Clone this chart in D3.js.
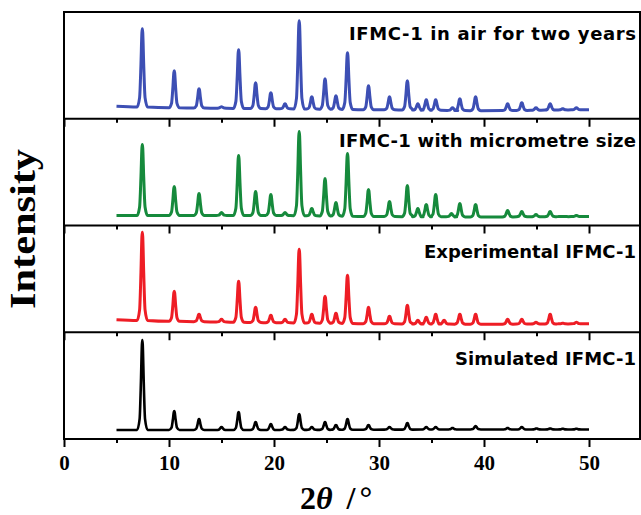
<!DOCTYPE html>
<html>
<head>
<meta charset="utf-8">
<style>
  body { margin: 0; background: #fff; }
  svg { display: block; }
</style>
</head>
<body>
<div id="chart"></div>
<script src="https://d3js.org/d3.v7.min.js"></script>
<script>
// Panel labels, top to bottom
var panelNames = ["IFMC-1 in air for two years", "IFMC-1 with micrometre size", "Experimental IFMC-1", "Simulated IFMC-1"];
var panelColors = ["#3d4fb4", "#168a3c", "#ee1d25", "#000000"];

// Peak positions (2theta, degrees) and apex intensities (a.u.)
var airPeaks = [[7.46, 90], [10.5, 48], [12.86, 30], [15.0, 12], [16.63, 69], [18.25, 36], [19.7, 26], [21.05, 15],
  [22.4, 98], [23.6, 22], [24.86, 40], [25.9, 23], [27.0, 66], [29.0, 33], [31.0, 22], [32.7, 38], [33.7, 15],
  [34.5, 19], [35.4, 19], [37.0, 11], [37.7, 20], [39.2, 22], [42.25, 15], [43.6, 16], [44.95, 11], [46.3, 15],
  [47.5, 10], [48.8, 11]];
var microPeaks = [[7.46, 81], [10.5, 39], [12.86, 32], [15.0, 13], [16.63, 70], [18.25, 34], [19.7, 31], [21.05, 13],
  [22.4, 94], [23.6, 17], [24.86, 47], [25.9, 23], [27.0, 72], [29.0, 36], [31.0, 24], [32.7, 40], [33.7, 17],
  [34.5, 21], [35.4, 31], [36.9, 12], [37.7, 22], [39.2, 21], [42.25, 15], [43.6, 14], [44.95, 11], [46.3, 14],
  [47.5, 9], [48.8, 10]];
var expPeaks = [[7.46, 100], [10.5, 41], [12.86, 18], [15.0, 13], [16.63, 51], [18.25, 25], [19.7, 17], [21.05, 13],
  [22.4, 83], [23.6, 18], [24.86, 36], [25.9, 19], [27.0, 57], [29.0, 25], [31.0, 16], [32.7, 27], [33.7, 12],
  [34.5, 15], [35.4, 18], [36.2, 12], [37.7, 18], [39.2, 18], [42.25, 13], [43.6, 13], [44.95, 10], [46.3, 18],
  [47.5, 9], [48.8, 10]];
var simPeaks = [[7.46, 99], [10.5, 28], [12.86, 20], [15.0, 12], [16.63, 27], [18.25, 17], [19.7, 15], [21.05, 12],
  [22.4, 25], [23.6, 12], [24.86, 17], [25.9, 14], [27.0, 20], [29.0, 14], [31.0, 12], [32.7, 16], [34.5, 12],
  [35.4, 12], [37.0, 11], [39.2, 13], [42.25, 11], [43.6, 12], [45.0, 10.5], [46.3, 10.5], [47.5, 10.3], [48.8, 10.3]];

// Background level of each trace (2theta, a.u.)
var airBase = [[5, 12.5], [10, 11], [20, 10], [30, 9], [40, 8], [50, 9]];
var microBase = [[5, 10], [20, 10], [30, 9], [40, 8.5], [50, 9]];
var expBase = [[5, 12.5], [10, 11], [20, 9.5], [30, 8.5], [40, 8], [50, 8.5]];
var simBase = [[5, 9], [20, 9], [35, 9.5], [50, 9.5]];

var allPeaks = [airPeaks, microPeaks, expPeaks, simPeaks];
var allBase = [airBase, microBase, expBase, simBase];
var xMajor = [0, 10, 20, 30, 40, 50];
var xMinor = [5, 15, 25, 35, 45];

var W = 641, H = 515;
var plotL = 64, plotR = 640, plotT = 12, plotB = 439;
var panelH = (plotB - plotT) / 4;
var labelDy = [28, 28, 32, 33];
var labelLen = [287, 297, 212, 181];

var svg = d3.select("#chart").append("svg")
  .attr("width", W).attr("height", H);

var x = d3.scaleLinear().domain([0, 50]).range([plotL, 589]);

function tracePoints(peaks, base) {
  var bx = base.map(function(d) { return d[0]; });
  var by = base.map(function(d) { return d[1]; });
  var b = d3.scaleLinear().domain(bx).range(by);
  var pts = [[5, b(5)]];
  peaks.forEach(function(p) {
    var c = p[0], bb = b(c), h = p[1] - bb;
    pts.push([c - 0.5, bb], [c - 0.26, bb + h * 0.12], [c - 0.13, bb + h * 0.55], [c - 0.04, bb + h * 0.95], [c, p[1]],
             [c + 0.04, bb + h * 0.95], [c + 0.13, bb + h * 0.55], [c + 0.26, bb + h * 0.12], [c + 0.5, bb]);
  });
  pts.push([50, b(50)]);
  return pts;
}

allPeaks.forEach(function(peaks, i) {
  var y0 = plotT + panelH * i, y1 = y0 + panelH;
  var y = d3.scaleLinear().domain([0, panelH]).range([y1, y0]);
  var line = d3.line()
    .x(function(d) { return x(d[0]); })
    .y(function(d) { return y(d[1]); })
    .curve(d3.curveMonotoneX);

  svg.append("path")
    .datum(tracePoints(peaks, allBase[i]))
    .attr("fill", "none")
    .attr("stroke", panelColors[i])
    .attr("stroke-width", i == 3 ? 2.6 : 3)
    .attr("stroke-linejoin", "round")
    .attr("d", line);

  svg.append("text")
    .attr("x", 636 - labelLen[i])
    .attr("y", y0 + labelDy[i])
    .attr("textLength", labelLen[i])
    .attr("lengthAdjust", "spacing")
    .style("font-family", "'Comic Sans MS', 'DejaVu Sans', sans-serif")
    .style("font-size", "18px")
    .style("font-weight", "bold")
    .text(panelNames[i]);

  // ticks along the lower edge of each panel
  var gMaj = svg.append("g")
    .attr("transform", "translate(0," + y1 + ")")
    .call(d3.axisBottom(x).tickValues(xMajor).tickSize(8).tickSizeOuter(0)
      .tickFormat(i == 3 ? d3.format("d") : ""));
  var gMin = svg.append("g")
    .attr("transform", "translate(0," + y1 + ")")
    .call(d3.axisBottom(x).tickValues(xMinor).tickSize(4).tickSizeOuter(0).tickFormat(""));
  [gMaj, gMin].forEach(function(g) {
    g.select(".domain").remove();
    g.selectAll(".tick line").attr("stroke", "#000").attr("stroke-width", 2);
  });
  gMaj.selectAll(".tick text")
    .attr("y", 16)
    .style("font-family", "'Liberation Serif', 'Times New Roman', serif")
    .style("font-size", "21px")
    .style("font-weight", "bold")
    .attr("fill", "#000");

  if (i < 3) {
    svg.append("line")
      .attr("x1", plotL).attr("x2", plotR)
      .attr("y1", y1).attr("y2", y1)
      .attr("stroke", "#000").attr("stroke-width", 2);
  }
});

// frame
svg.append("rect")
  .attr("x", plotL).attr("y", plotT)
  .attr("width", plotR - plotL).attr("height", plotB - plotT)
  .attr("fill", "none").attr("stroke", "#000").attr("stroke-width", 2);

// axis titles
svg.append("text")
  .attr("transform", "translate(35,229) rotate(-90)")
  .attr("text-anchor", "middle")
  .attr("textLength", 160)
  .attr("lengthAdjust", "spacingAndGlyphs")
  .style("font-family", "'Liberation Serif', 'Times New Roman', serif")
  .style("font-size", "35px")
  .style("font-weight", "bold")
  .text("Intensity");

var xt = svg.append("text")
  .attr("x", 300).attr("y", 509)
  .style("font-family", "'Liberation Serif', 'Times New Roman', serif")
  .style("font-size", "32px")
  .style("font-weight", "bold");
xt.append("tspan").text("2");
xt.append("tspan").style("font-style", "italic").text("θ");
xt.append("tspan").attr("dx", 14).text("/");
xt.append("tspan").attr("dx", 4).text("°");
</script>
</body>
</html>
